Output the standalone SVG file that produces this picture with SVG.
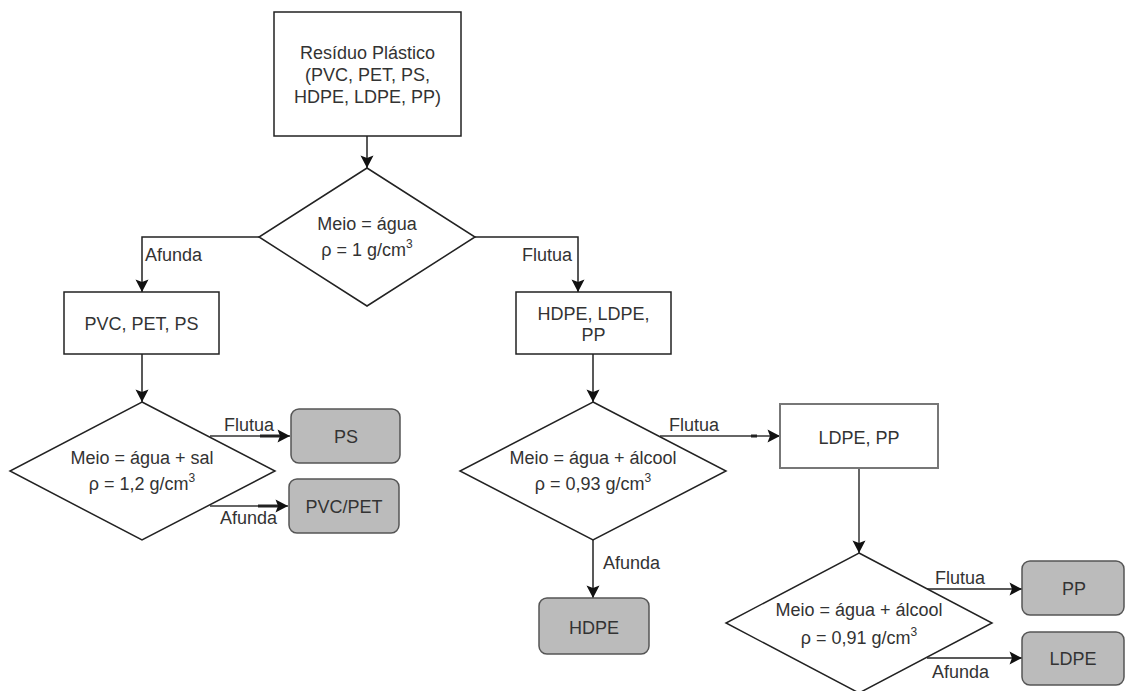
<svg xmlns="http://www.w3.org/2000/svg" width="1126" height="691" viewBox="0 0 1126 691">
  <defs>
    <marker id="arrow" markerUnits="userSpaceOnUse" markerWidth="14" markerHeight="14" refX="13" refY="7" orient="auto">
      <path d="M0.5,0.5 L13,7 L0.5,13.5 L3,7 Z" fill="#111"/>
    </marker>
  </defs>
  <style>
    text { font-family: "Liberation Sans", Arial, sans-serif; font-size: 18px; fill: #333; }
    .c { text-anchor: middle; }
    .box { fill: #fff; stroke: #222; stroke-width: 1.5; }
    .box2 { fill: #fff; stroke: #777; stroke-width: 2; }
    .dia { fill: #fff; stroke: #222; stroke-width: 1.5; }
    .end { fill: #bbb; stroke: #555; stroke-width: 1.5; }
    .edge { fill: none; stroke: #222; stroke-width: 1.5; marker-end: url(#arrow); }
    .edge2 { fill: none; stroke: #666; stroke-width: 2; marker-end: url(#arrow); }
    .sup { font-size: 12px; }
  </style>
  <rect width="1126" height="691" fill="#fff"/>

  <!-- connectors -->
  <g id="connectors">
    <path class="edge" d="M367,136 V168"/>
    <path class="edge" d="M259,237 H142 V292"/>
    <path class="edge" d="M475,237 H578 V292"/>
    <path class="edge" d="M142,354 V402"/>
    <path class="edge2" d="M210,436 H290"/>
    <path d="M260,436 H280" stroke="#222" stroke-width="3"/>
    <path class="edge2" d="M210,506 H288"/>
    <path d="M258,506 H278" stroke="#222" stroke-width="3"/>
    <path class="edge" d="M593,354 V402"/>
    <path class="edge2" d="M660,436 H780"/>
    <path d="M751,436 H757" stroke="#222" stroke-width="3"/>
    <path class="edge" d="M593,540 V598"/>
    <path class="edge2" d="M859,468 V553"/>
    <path class="edge" d="M927,589 H1022"/>
    <path class="edge" d="M927,658 H1022"/>
    <text x="145" y="261">Afunda</text>
    <text x="572" y="261" text-anchor="end">Flutua</text>
    <text x="224" y="431">Flutua</text>
    <text x="220" y="524">Afunda</text>
    <text x="669" y="431">Flutua</text>
    <text x="603" y="569">Afunda</text>
    <text x="935" y="584">Flutua</text>
    <text x="932" y="678">Afunda</text>
  </g>

  <g id="residuo">
    <rect class="box" x="274" y="12" width="187" height="124"/>
    <text class="c" x="367.5" y="59">Resíduo Plástico</text>
    <text class="c" x="367.5" y="81">(PVC, PET, PS,</text>
    <text class="c" x="367.5" y="103">HDPE, LDPE, PP)</text>
  </g>

  <g id="agua">
    <polygon class="dia" points="367,168 475,237 367,306 259,237"/>
    <text class="c" x="367" y="230">Meio = água</text>
    <text class="c" x="367" y="256">ρ = 1 g/cm<tspan class="sup" dy="-8">3</tspan></text>
  </g>

  <g id="pesados">
    <rect class="box" x="64" y="292" width="155" height="62"/>
    <text class="c" x="141.5" y="330">PVC, PET, PS</text>
  </g>

  <g id="leves">
    <rect class="box" x="516" y="292" width="155" height="62"/>
    <text class="c" x="593.5" y="320">HDPE, LDPE,</text>
    <text class="c" x="593.5" y="341">PP</text>
  </g>

  <g id="agua-sal">
    <polygon class="dia" points="142,402 275,471 142,540 10,471"/>
    <text class="c" x="142" y="464">Meio = água + sal</text>
    <text class="c" x="142" y="490">ρ = 1,2 g/cm<tspan class="sup" dy="-8">3</tspan></text>
  </g>

  <g id="ps">
    <rect class="end" x="291" y="409" width="109" height="54" rx="8"/>
    <text class="c" x="346" y="443">PS</text>
  </g>

  <g id="pvc-pet">
    <rect class="end" x="289" y="479" width="110" height="54" rx="8"/>
    <text class="c" x="344" y="513">PVC/PET</text>
  </g>

  <g id="agua-alcool-093">
    <polygon class="dia" points="593,402 726,471 593,540 460,471"/>
    <text class="c" x="593" y="464">Meio = água + álcool</text>
    <text class="c" x="593" y="490">ρ = 0,93 g/cm<tspan class="sup" dy="-8">3</tspan></text>
  </g>

  <g id="hdpe">
    <rect class="end" x="539" y="598" width="110" height="56" rx="8"/>
    <text class="c" x="594" y="634">HDPE</text>
  </g>

  <g id="ldpe-pp">
    <rect class="box2" x="780" y="404" width="158" height="64"/>
    <text class="c" x="859" y="444">LDPE, PP</text>
  </g>

  <g id="agua-alcool-091">
    <polygon class="dia" points="859,553 992,623 859,693 726,623"/>
    <text class="c" x="859" y="616">Meio = água + álcool</text>
    <text class="c" x="859" y="644">ρ = 0,91 g/cm<tspan class="sup" dy="-8">3</tspan></text>
  </g>

  <g id="pp">
    <rect class="end" x="1022" y="561" width="102" height="54" rx="8"/>
    <text class="c" x="1074" y="595">PP</text>
  </g>

  <g id="ldpe">
    <rect class="end" x="1022" y="632" width="102" height="53" rx="8"/>
    <text class="c" x="1073" y="665">LDPE</text>
  </g>
</svg>
